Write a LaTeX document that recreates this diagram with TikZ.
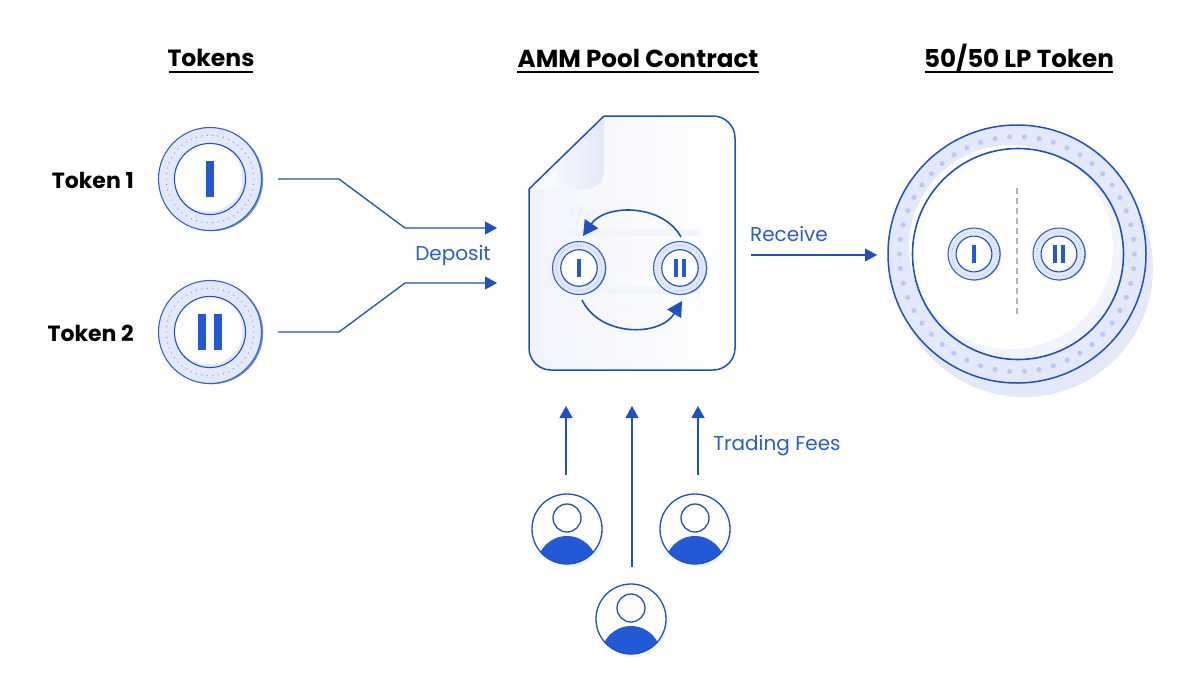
\documentclass[tikz,border=0pt]{standalone}
\usepackage{fontspec}
\setmainfont{Poppins}
\usetikzlibrary{arrows.meta, calc}

\definecolor{lineblue}{HTML}{1F4FC4}
\definecolor{barblue}{HTML}{2459D6}
\definecolor{textblue}{HTML}{2A5BD0}
\definecolor{ringblue}{HTML}{E2E9FB}
\definecolor{dotblue}{HTML}{BCCAF1}
\definecolor{shadeblue}{HTML}{E3E9F9}
\definecolor{faintblue}{HTML}{F1F4FC}

% name, x, y, outer radius, bar offsets
\newcommand{\tokencoin}[5]{
	\fill[dotblue!55!lineblue] (#2+.035*#4,#3+.015*#4) circle (#4);
	\node[coinring, minimum size=2*#4*1pt] (#1) at (#2,#3) {};
	\foreach \ang in {0,7.2,...,353}
		\fill[lineblue!55] (#2,#3) ++(\ang:.85*#4) circle (.012*#4+.1);
	\fill[shadeblue] (#2,#3) circle (.69*#4);
	\fill[white] (#2-.03*#4,#3-.03*#4) circle (.66*#4);
	\draw[lineblue, line width=1.1pt] (#2,#3) circle (.69*#4);
	\foreach \off in {#5}
		\fill[barblue] (#2+\off*#4-.08*#4,#3-.35*#4) rectangle (#2+\off*#4+.08*#4,#3+.35*#4);
}

% name, x, y
\newcommand{\usercoin}[3]{
	\fill[faintblue] (#2+2,#3+3) circle (35);
	\node[usercircle] (#1) at (#2,#3) {};
	\begin{scope}
		\clip (#2,#3) circle (35);
		\fill[barblue] (#2,#3+37) circle (30);
	\end{scope}
	\draw[lineblue, line width=1.3pt] (#2,#3-11) circle (14);
	\draw[lineblue, line width=1.3pt] (#2,#3) circle (35);
}

\begin{document}
\begin{tikzpicture}[x=1pt, y=-1pt]
	\tikzstyle{title}=[font=\fontsize{23.5}{28}\selectfont\bfseries, text=black, inner sep=0pt]
	\tikzstyle{titlewide}=[font=\fontsize{24.6}{28}\selectfont\bfseries, text=black, inner sep=0pt]
	\tikzstyle{tokenlabel}=[font=\fontsize{22}{26}\selectfont\bfseries, text=black, inner sep=0pt]
	\tikzstyle{flowlabel}=[font=\fontsize{20}{24}\selectfont, text=textblue, inner sep=0pt]
	\tikzstyle{coinring}=[circle, draw=lineblue!90, line width=1.1pt, fill=ringblue, inner sep=0pt, outer sep=0pt]
	\tikzstyle{usercircle}=[circle, fill=white, minimum size=70pt, inner sep=0pt, outer sep=0pt]
	\tikzstyle{flow}=[draw=lineblue, line width=1.3pt, -{Triangle[length=12pt,width=13pt]}]
	\tikzstyle{swap}=[draw=lineblue, line width=1.6pt, -{Triangle[length=15pt,width=16pt]}]

	\useasboundingbox (0,0) rectangle (1200,675);
	\fill[white] (0,0) rectangle (1200,675);

	\node[title] (titletokens) at (211,58) {Tokens};
	\node[titlewide] (titlepool) at (638,58) {AMM Pool Contract};
	\node[titlewide] (titlelp) at (1019,58) {50/50 LP Token};
	\draw[black, line width=1.6pt] (169,72) -- (253,72);
	\draw[black, line width=1.6pt] (517,72) -- (759,72);
	\draw[black, line width=1.6pt] (925,72) -- (1113,72);

	\node[tokenlabel, anchor=east] (labelone) at (134,180) {Token 1};
	\node[tokenlabel, anchor=east] (labeltwo) at (134,333) {Token 2};
	\tokencoin{tokenone}{210}{179}{51.5}{0}
	\tokencoin{tokentwo}{210}{332}{51.5}{-.16,.16}

	% contract sheet
	\shade[shading angle=45, left color=faintblue, right color=white]
		(529,189) -- (604,116) [rounded corners=22pt] -- (735,116) -- (735,370) -- (529,370) [sharp corners] -- cycle;
	\shade[shading angle=45, left color=white, right color=shadeblue]
		(529,189) -- (604,116) [rounded corners=18pt] -- (604,189) [sharp corners] -- cycle;
	\node[text=lineblue!10, font=\fontsize{15}{18}\selectfont] (codetag) at (580,214) {</>};
	\foreach \ytop in {229,287}
		\fill[lineblue!6] (567,\ytop) rectangle (700,\ytop+7);
	\foreach \yline in {241,248,255,262,269,276}
		\fill[lineblue!4] (600,\yline) rectangle (650,\yline+1.5);
	\foreach \yline in {304,314,324,331}
		\fill[lineblue!4] (567,\yline) rectangle (650,\yline+1.5);
	\draw[lineblue, line width=1.5pt]
		(529,189) -- (604,116) [rounded corners=22pt] -- (735,116) -- (735,370) -- (529,370) [sharp corners] -- cycle;

	\tokencoin{poolone}{579}{268}{26.5}{0}
	\tokencoin{pooltwo}{680}{268}{26.5}{-.16,.16}
	\coordinate (swaptopa) at (681,237);
	\coordinate (swaptopb) at (583,236);
	\coordinate (swapbota) at (582,300);
	\coordinate (swapbotb) at (682,301);
	\draw[swap] (swaptopa) .. controls (662,203) and (605,204) .. (swaptopb);
	\draw[swap] (swapbota) .. controls (600,337) and (660,337) .. (swapbotb);

	% lp token
	\fill[shadeblue] (1024,268) circle (129);
	\node[circle, minimum size=258pt, inner sep=0pt, outer sep=0pt, fill=ringblue, draw=lineblue, line width=1.5pt] (lptoken) at (1017,254) {};
	\foreach \ang in {0,7.2,...,353}
		\fill[dotblue] (1017,254) ++(\ang:117.5) circle (2.6);
	\fill[faintblue] (1018,254) circle (105.5);
	\fill[white] (1011,247) circle (102);
	\draw[lineblue, line width=1.6pt] (1018,254) circle (105.5);
	\coordinate (lpdasha) at (1017,188);
	\coordinate (lpdashb) at (1017,318);
	\draw[dotblue!70!gray, line width=1.2pt, dash pattern=on 6pt off 4pt] (lpdasha) -- (lpdashb);
	\tokencoin{lpone}{974}{254}{26}{0}
	\tokencoin{lptwo}{1059}{254}{26}{-.16,.16}

	% flows
	\coordinate (depositone) at ($(tokenone.east)+(16.5,0)$);
	\coordinate (deposittwo) at ($(tokentwo.east)+(16.5,0)$);
	\coordinate (poolinone) at (497,228);
	\coordinate (poolintwo) at (497,283);
	\draw[flow] (depositone) -- (339,179) -- (405,228) -- (poolinone);
	\draw[flow] (deposittwo) -- (339,332) -- (405,283) -- (poolintwo);
	\node[flowlabel] (labeldeposit) at (453,255) {Deposit};
	\coordinate (receivefrom) at (751,255);
	\coordinate (receiveto) at (877,255);
	\draw[flow] (receivefrom) -- (receiveto);
	\node[flowlabel] (labelreceive) at (789,234) {Receive};

	\usercoin{userleft}{567}{529}
	\usercoin{userright}{695}{529}
	\usercoin{userbottom}{631}{619}
	\coordinate (feeleft) at (566,475);
	\coordinate (feemid) at (632,567);
	\coordinate (feeright) at (698,475);
	\draw[flow] (feeleft) -- (566,406);
	\draw[flow] (feemid) -- (632,406);
	\draw[flow] (feeright) -- (698,406);
	\node[flowlabel] (labelfees) at (777,446) {Trading Fees};
\end{tikzpicture}
\end{document}
